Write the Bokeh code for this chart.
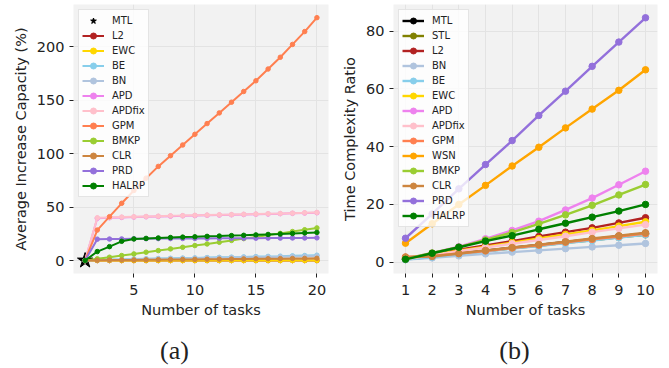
from bokeh.plotting import figure
from bokeh.layouts import row, column
from bokeh.models import Div, FixedTicker, Range1d
from bokeh.embed import file_html
from bokeh.resources import INLINE

# ---------------- data: (a) Average Increase Capacity ----------------
tasks_a = list(range(1, 21))
a_series = {
    "L2":     [0]*20,
    "EWC":    [0]*20,
    "BE":     [0, 0.8, 1.0, 1.2, 1.5, 1.7, 1.9, 2.1, 2.3, 2.5, 2.8, 3.0, 3.2, 3.4, 3.7, 3.9, 4.1, 4.4, 4.7, 5.0],
    "BN":     [0, 0.6, 0.8, 1.0, 1.2, 1.4, 1.6, 1.8, 2.0, 2.2, 2.4, 2.6, 2.8, 3.0, 3.2, 3.4, 3.6, 3.8, 4.0, 4.3],
    "APD":    [0, 39.5, 40.0, 40.3, 40.6, 40.9, 41.2, 41.5, 41.8, 42.0, 42.3, 42.5, 42.8, 43.0, 43.3, 43.5, 43.8, 44.1, 44.4, 44.7],
    "APDfix": [0, 40.0, 40.3, 40.6, 40.9, 41.2, 41.5, 41.8, 42.0, 42.3, 42.5, 42.8, 43.0, 43.3, 43.5, 43.8, 44.0, 44.3, 44.6, 45.0],
    "GPM":    [0, 28.5, 41, 53.5, 65.5, 77, 88, 98, 108, 118, 128, 138, 148, 158, 168, 179, 190, 202, 214, 227],
    "BMKP":   [0, 1.6, 3.1, 4.7, 6.2, 7.8, 9.3, 10.9, 12.4, 14.0, 15.5, 17.1, 18.8, 20.5, 22.1, 23.8, 25.4, 27.1, 28.8, 30.5],
    "CLR":    [0, 0.3, 0.4, 0.5, 0.6, 0.7, 0.8, 0.9, 1.0, 1.1, 1.2, 1.3, 1.4, 1.5, 1.6, 1.7, 1.8, 1.9, 2.0, 2.1],
    "PRD":    [0, 20.0, 20.1, 20.2, 20.3, 20.4, 20.5, 20.5, 20.6, 20.7, 20.7, 20.8, 20.8, 20.9, 20.9, 21.0, 21.0, 21.1, 21.1, 21.2],
    "HALRP":  [0, 8.4, 13.0, 18.0, 20.2, 20.7, 21.1, 21.5, 21.9, 22.2, 22.6, 22.9, 23.3, 23.6, 24.0, 24.4, 24.8, 25.3, 25.8, 26.3],
}
mtl_a_x = [1]
mtl_a_y = [0]

# ---------------- data: (b) Time Complexity Ratio ----------------
tasks_b = list(range(1, 11))
b_series = {
    "MTL":    [1.0, 2.0, 3.0, 4.0, 5.0, 6.0, 7.0, 8.0, 9.0, 10.0],
    "STL":    [1.0, 1.9, 2.9, 3.8, 4.8, 5.7, 6.7, 7.6, 8.6, 9.5],
    "L2":     [1.2, 2.7, 4.3, 5.8, 7.3, 8.9, 10.4, 11.9, 13.6, 15.4],
    "BN":     [0.9, 1.5, 2.2, 2.9, 3.5, 4.1, 4.7, 5.3, 5.9, 6.5],
    "BE":     [0.9, 1.8, 2.8, 3.7, 4.7, 5.6, 6.6, 7.5, 8.5, 9.5],
    "EWC":    [1.2, 2.6, 4.0, 5.4, 6.8, 8.2, 9.6, 11.0, 12.5, 14.0],
    "APD":    [1.2, 3.2, 5.4, 8.1, 11.0, 14.2, 18.1, 22.2, 26.8, 31.5],
    "APDfix": [1.1, 2.4, 3.8, 5.1, 6.4, 7.7, 9.0, 10.4, 11.7, 13.0],
    "GPM":    [1.8, 2.2, 3.0, 3.9, 4.9, 5.9, 6.9, 7.9, 8.9, 9.9],
    "WSN":    [6.6, 13.3, 20.0, 26.6, 33.3, 39.8, 46.5, 53.0, 59.5, 66.6],
    "BMKP":   [1.2, 3.2, 5.2, 7.7, 10.3, 13.3, 16.4, 19.7, 23.3, 26.9],
    "CLR":    [1.8, 2.0, 3.0, 4.1, 5.1, 6.1, 7.1, 8.2, 9.2, 10.2],
    "PRD":    [8.3, 16.7, 25.4, 33.8, 42.1, 50.8, 59.2, 67.8, 76.2, 84.6],
    "HALRP":  [1.0, 3.1, 5.2, 7.3, 9.2, 11.4, 13.5, 15.6, 17.7, 20.0],
}

captions = ["(a)", "(b)"]

colors = {
    "MTL": "#000000", "STL": "#808000", "L2": "#b22222", "BN": "#b0c4de",
    "BE": "#87ceeb", "EWC": "#ffd700", "APD": "#ee82ee", "APDfix": "#ffc0cb",
    "GPM": "#ff7f50", "WSN": "#ffa500", "BMKP": "#9acd32", "CLR": "#cd853f",
    "PRD": "#9370db", "HALRP": "#008000",
}

FONT = "DejaVu Sans"


def style(p, xticks, yticks, xlab, ylab):
    p.background_fill_color = "#f2f2f2"
    p.border_fill_color = "white"
    p.outline_line_color = None
    p.xgrid.grid_line_color = "#e3e3e3"
    p.ygrid.grid_line_color = "#e3e3e3"
    p.xgrid.grid_line_width = 1
    p.ygrid.grid_line_width = 1
    p.xaxis.ticker = FixedTicker(ticks=xticks)
    p.yaxis.ticker = FixedTicker(ticks=yticks)
    for ax in (p.xaxis[0], p.yaxis[0]):
        ax.axis_line_color = None
        ax.major_tick_out = 4
        ax.major_tick_in = 0
        ax.major_tick_line_color = "#222222"
        ax.minor_tick_line_color = None
        ax.major_label_text_font = FONT
        ax.major_label_text_font_size = "14.5px"
        ax.major_label_text_color = "#222222"
        ax.axis_label_text_font = FONT
        ax.axis_label_text_font_size = "14.5px"
        ax.axis_label_text_font_style = "normal"
        ax.axis_label_text_color = "#222222"
    p.xaxis.major_label_standoff = 7
    p.xaxis.axis_label_standoff = 4
    p.yaxis.major_label_standoff = 5
    p.yaxis.axis_label_standoff = 5
    p.xaxis.axis_label = xlab
    p.yaxis.axis_label = ylab


def style_legend(p):
    lg = p.legend[0]
    lg.location = "top_left"
    lg.margin = 5
    lg.padding = 3
    lg.spacing = 0
    lg.glyph_height = 15
    lg.label_height = 15
    lg.glyph_width = 22
    lg.label_standoff = 8
    lg.label_text_font = FONT
    lg.label_text_font_size = "10px"
    lg.label_text_color = "#222222"
    lg.border_line_color = "#cccccc"
    lg.border_line_width = 1
    lg.background_fill_alpha = 0.8


def caption_div(text, width, pad_left, pad_right):
    return Div(text=text, width=width, height=45,
               styles={"font-family": "Liberation Serif", "font-size": "26px",
                       "color": "#222222", "text-align": "center",
                       "padding-top": "8px", "padding-left": f"{pad_left}px",
                       "padding-right": f"{pad_right}px",
                       "box-sizing": "border-box", "line-height": "30px",
                       "overflow": "visible"})


# ---------------- figure (a) ----------------
p1 = figure(width=335, height=323, output_backend="svg", toolbar_location=None,
            x_range=Range1d(0.05, 20.95), y_range=Range1d(-12.1, 239.3),
            min_border_left=73, min_border_right=7, min_border_top=4,
            min_border_bottom=50)
style(p1, [5, 10, 15, 20], [0, 50, 100, 150, 200], "Number of tasks",
      "Average Increase Capacity (%)")

p1.scatter(mtl_a_x, mtl_a_y, marker="star", size=16, color="black", legend_label="MTL")
for name, ys in a_series.items():
    c = colors[name]
    p1.line(tasks_a, ys, line_color=c, line_width=2, legend_label=name)
    p1.scatter(tasks_a, ys, size=4.5, color=c, legend_label=name)
style_legend(p1)

# ---------------- figure (b) ----------------
p2 = figure(width=334, height=323, output_backend="svg", toolbar_location=None,
            x_range=Range1d(0.55, 10.45), y_range=Range1d(-3.9, 89.2),
            min_border_left=58, min_border_right=12, min_border_top=4,
            min_border_bottom=50)
style(p2, list(range(1, 11)), [0, 20, 40, 60, 80], "Number of tasks",
      "Time Complexity Ratio")

for name, ys in b_series.items():
    c = colors[name]
    p2.line(tasks_b, ys, line_color=c, line_width=2.4, legend_label=name)
    p2.scatter(tasks_b, ys, size=6.5, color=c, legend_label=name)
style_legend(p2)

cap_a = caption_div(captions[0], 335, 4, 0)
cap_b = caption_div(captions[1], 334, 0, 5)

layout = column(row(p1, p2), row(cap_a, cap_b))
open("out.html", "w").write(file_html(layout, INLINE))
